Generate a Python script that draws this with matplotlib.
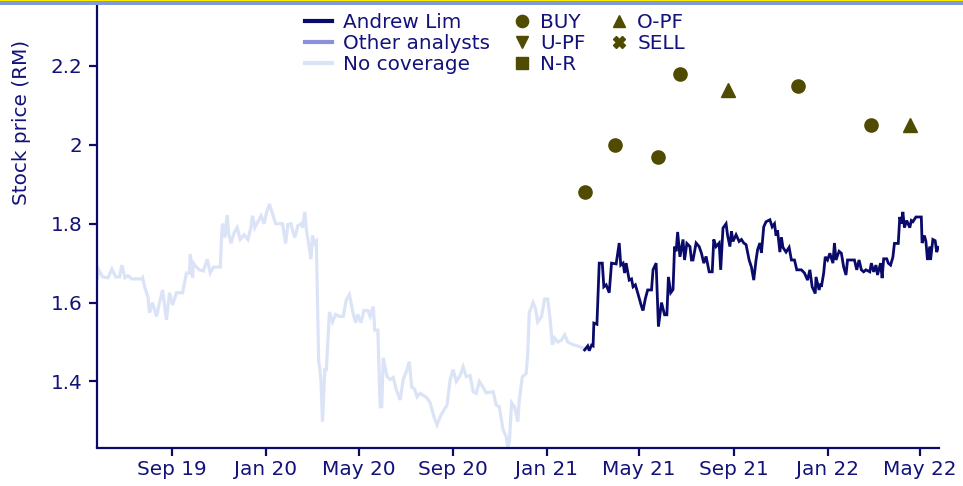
import matplotlib
matplotlib.use("Agg")
import matplotlib.pyplot as plt
import matplotlib.dates as mdates
from matplotlib.lines import Line2D
from matplotlib.patches import Rectangle
from matplotlib.ticker import FuncFormatter
import pandas as pd

# --- DATA ---
# price history while the stock had no coverage
NO_COVERAGE = [
    ("2019-05-27", 1.660), ("2019-05-29", 1.683), ("2019-06-03", 1.665), ("2019-06-10", 1.663),
    ("2019-06-15", 1.685), ("2019-06-20", 1.665), ("2019-06-25", 1.665), ("2019-06-28", 1.695),
    ("2019-07-02", 1.663), ("2019-07-06", 1.668), ("2019-07-11", 1.660), ("2019-07-16", 1.660),
    ("2019-07-24", 1.660), ("2019-07-25", 1.663), ("2019-07-28", 1.637), ("2019-08-01", 1.614),
    ("2019-08-03", 1.574), ("2019-08-07", 1.600), ("2019-08-12", 1.565), ("2019-08-16", 1.600),
    ("2019-08-20", 1.632), ("2019-08-25", 1.556), ("2019-08-29", 1.625), ("2019-09-02", 1.594),
    ("2019-09-07", 1.625), ("2019-09-15", 1.625), ("2019-09-20", 1.675), ("2019-09-24", 1.675),
    ("2019-09-25", 1.723), ("2019-09-28", 1.663), ("2019-09-29", 1.700), ("2019-10-03", 1.690),
    ("2019-10-07", 1.683), ("2019-10-12", 1.680), ("2019-10-17", 1.710), ("2019-10-21", 1.675),
    ("2019-10-25", 1.690), ("2019-11-03", 1.690), ("2019-11-05", 1.777), ("2019-11-06", 1.800),
    ("2019-11-09", 1.765), ("2019-11-12", 1.822), ("2019-11-14", 1.775), ("2019-11-17", 1.750),
    ("2019-11-21", 1.777), ("2019-11-25", 1.790), ("2019-11-29", 1.760), ("2019-12-04", 1.772),
    ("2019-12-09", 1.760), ("2019-12-13", 1.792), ("2019-12-15", 1.820), ("2019-12-18", 1.790),
    ("2019-12-22", 1.805), ("2019-12-26", 1.820), ("2019-12-30", 1.800), ("2020-01-02", 1.827),
    ("2020-01-06", 1.850), ("2020-01-10", 1.825), ("2020-01-14", 1.800), ("2020-01-23", 1.800),
    ("2020-01-27", 1.750), ("2020-01-30", 1.798), ("2020-02-03", 1.800), ("2020-02-05", 1.784),
    ("2020-02-08", 1.765), ("2020-02-12", 1.795), ("2020-02-16", 1.800), ("2020-02-18", 1.790),
    ("2020-02-21", 1.830), ("2020-02-23", 1.784), ("2020-02-26", 1.750), ("2020-02-29", 1.710),
    ("2020-03-02", 1.770), ("2020-03-05", 1.750), ("2020-03-07", 1.755), ("2020-03-10", 1.450),
    ("2020-03-11", 1.440), ("2020-03-13", 1.404), ("2020-03-15", 1.298), ("2020-03-18", 1.430),
    ("2020-03-20", 1.430), ("2020-03-24", 1.576), ("2020-03-28", 1.551), ("2020-04-01", 1.570),
    ("2020-04-06", 1.565), ("2020-04-11", 1.565), ("2020-04-15", 1.607), ("2020-04-19", 1.620),
    ("2020-04-23", 1.580), ("2020-04-27", 1.549), ("2020-04-30", 1.570), ("2020-05-04", 1.549),
    ("2020-05-08", 1.580), ("2020-05-13", 1.580), ("2020-05-16", 1.565), ("2020-05-20", 1.590),
    ("2020-05-22", 1.530), ("2020-05-26", 1.530), ("2020-05-29", 1.336), ("2020-05-31", 1.336),
    ("2020-06-02", 1.460), ("2020-06-07", 1.412), ("2020-06-11", 1.405), ("2020-06-15", 1.410),
    ("2020-06-19", 1.379), ("2020-06-24", 1.353), ("2020-06-28", 1.405), ("2020-07-03", 1.430),
    ("2020-07-06", 1.450), ("2020-07-09", 1.386), ("2020-07-13", 1.380), ("2020-07-16", 1.361),
    ("2020-07-20", 1.370), ("2020-07-24", 1.365), ("2020-07-29", 1.358), ("2020-08-02", 1.346),
    ("2020-08-07", 1.310), ("2020-08-11", 1.290), ("2020-08-15", 1.310), ("2020-08-20", 1.328),
    ("2020-08-24", 1.340), ("2020-08-28", 1.404), ("2020-09-01", 1.430), ("2020-09-05", 1.400),
    ("2020-09-10", 1.415), ("2020-09-14", 1.437), ("2020-09-18", 1.412), ("2020-09-23", 1.415),
    ("2020-09-27", 1.374), ("2020-10-01", 1.370), ("2020-10-05", 1.400), ("2020-10-10", 1.385),
    ("2020-10-14", 1.371), ("2020-10-23", 1.374), ("2020-10-27", 1.340), ("2020-10-31", 1.336),
    ("2020-11-05", 1.277), ("2020-11-09", 1.260), ("2020-11-11", 1.234), ("2020-11-13", 1.245),
    ("2020-11-16", 1.346), ("2020-11-20", 1.335), ("2020-11-24", 1.298), ("2020-11-26", 1.353),
    ("2020-11-30", 1.412), ("2020-12-05", 1.420), ("2020-12-07", 1.472), ("2020-12-09", 1.574),
    ("2020-12-14", 1.600), ("2020-12-17", 1.585), ("2020-12-20", 1.551), ("2020-12-25", 1.565),
    ("2020-12-29", 1.609), ("2021-01-02", 1.609), ("2021-01-05", 1.560), ("2021-01-08", 1.493),
    ("2021-01-11", 1.510), ("2021-01-15", 1.500), ("2021-01-20", 1.505), ("2021-01-24", 1.518),
    ("2021-01-28", 1.500), ("2021-02-04", 1.493), ("2021-02-10", 1.490), ("2021-02-17", 1.485),
    ("2021-02-19", 1.480),
]

# price history while covered by Andrew Lim
ANDREW_LIM = [
    ("2021-02-19", 1.480), ("2021-02-23", 1.490), ("2021-02-25", 1.478), ("2021-02-28", 1.492),
    ("2021-03-02", 1.490), ("2021-03-03", 1.548), ("2021-03-07", 1.545), ("2021-03-10", 1.700),
    ("2021-03-14", 1.700), ("2021-03-16", 1.640), ("2021-03-19", 1.645), ("2021-03-23", 1.625),
    ("2021-03-26", 1.700), ("2021-04-01", 1.698), ("2021-04-05", 1.751), ("2021-04-07", 1.695),
    ("2021-04-10", 1.700), ("2021-04-12", 1.675), ("2021-04-14", 1.700), ("2021-04-18", 1.657),
    ("2021-04-21", 1.660), ("2021-04-23", 1.640), ("2021-04-26", 1.645), ("2021-04-29", 1.625),
    ("2021-05-04", 1.590), ("2021-05-06", 1.580), ("2021-05-09", 1.610), ("2021-05-12", 1.632),
    ("2021-05-17", 1.632), ("2021-05-19", 1.683), ("2021-05-23", 1.700), ("2021-05-26", 1.539),
    ("2021-05-30", 1.600), ("2021-06-03", 1.569), ("2021-06-06", 1.569), ("2021-06-08", 1.665),
    ("2021-06-11", 1.625), ("2021-06-14", 1.633), ("2021-06-16", 1.742), ("2021-06-18", 1.730),
    ("2021-06-20", 1.779), ("2021-06-23", 1.716), ("2021-06-27", 1.760), ("2021-06-29", 1.708),
    ("2021-07-02", 1.750), ("2021-07-06", 1.742), ("2021-07-08", 1.708), ("2021-07-10", 1.708),
    ("2021-07-14", 1.751), ("2021-07-18", 1.742), ("2021-07-21", 1.725), ("2021-07-24", 1.700),
    ("2021-07-27", 1.717), ("2021-07-31", 1.678), ("2021-08-04", 1.678), ("2021-08-06", 1.760),
    ("2021-08-09", 1.742), ("2021-08-13", 1.751), ("2021-08-15", 1.683), ("2021-08-18", 1.789),
    ("2021-08-22", 1.800), ("2021-08-24", 1.770), ("2021-08-27", 1.742), ("2021-08-29", 1.781),
    ("2021-08-31", 1.755), ("2021-09-04", 1.772), ("2021-09-08", 1.755), ("2021-09-11", 1.760),
    ("2021-09-14", 1.751), ("2021-09-17", 1.747), ("2021-09-21", 1.708), ("2021-09-24", 1.690),
    ("2021-09-27", 1.657), ("2021-09-30", 1.708), ("2021-10-02", 1.734), ("2021-10-05", 1.751),
    ("2021-10-07", 1.726), ("2021-10-10", 1.792), ("2021-10-13", 1.805), ("2021-10-18", 1.810),
    ("2021-10-21", 1.792), ("2021-10-24", 1.800), ("2021-10-26", 1.770), ("2021-10-28", 1.783),
    ("2021-10-31", 1.728), ("2021-11-02", 1.765), ("2021-11-04", 1.740), ("2021-11-08", 1.728),
    ("2021-11-12", 1.740), ("2021-11-15", 1.708), ("2021-11-19", 1.708), ("2021-11-22", 1.683),
    ("2021-11-28", 1.683), ("2021-12-02", 1.675), ("2021-12-06", 1.657), ("2021-12-09", 1.683),
    ("2021-12-12", 1.640), ("2021-12-16", 1.623), ("2021-12-17", 1.665), ("2021-12-21", 1.632),
    ("2021-12-23", 1.648), ("2021-12-24", 1.640), ("2021-12-27", 1.675), ("2021-12-29", 1.716),
    ("2022-01-01", 1.708), ("2022-01-04", 1.725), ("2022-01-08", 1.700), ("2022-01-10", 1.751),
    ("2022-01-12", 1.708), ("2022-01-16", 1.730), ("2022-01-19", 1.725), ("2022-01-22", 1.690),
    ("2022-01-25", 1.670), ("2022-01-27", 1.708), ("2022-02-01", 1.708), ("2022-02-05", 1.708),
    ("2022-02-08", 1.683), ("2022-02-11", 1.708), ("2022-02-14", 1.683), ("2022-02-17", 1.678),
    ("2022-02-20", 1.683), ("2022-02-25", 1.678), ("2022-02-27", 1.700), ("2022-03-02", 1.678),
    ("2022-03-05", 1.695), ("2022-03-07", 1.670), ("2022-03-11", 1.700), ("2022-03-13", 1.662),
    ("2022-03-15", 1.711), ("2022-03-19", 1.711), ("2022-03-21", 1.700), ("2022-03-24", 1.695),
    ("2022-03-27", 1.715), ("2022-03-29", 1.750), ("2022-04-03", 1.750), ("2022-04-05", 1.817),
    ("2022-04-07", 1.800), ("2022-04-09", 1.830), ("2022-04-11", 1.790), ("2022-04-14", 1.808),
    ("2022-04-18", 1.790), ("2022-04-20", 1.808), ("2022-04-22", 1.805), ("2022-04-26", 1.817),
    ("2022-05-03", 1.817), ("2022-05-04", 1.751), ("2022-05-07", 1.770), ("2022-05-09", 1.755),
    ("2022-05-11", 1.708), ("2022-05-14", 1.742), ("2022-05-15", 1.708), ("2022-05-18", 1.760),
    ("2022-05-21", 1.757), ("2022-05-23", 1.728), ("2022-05-25", 1.740),
]

# rating changes: date, target price, call
RATING_DATES = ["2021-02-19", "2021-03-31", "2021-05-25", "2021-06-23",
                "2021-08-24", "2021-11-24", "2022-02-26", "2022-04-18"]
RATING_TARGETS = [1.88, 2.00, 1.97, 2.18, 2.14, 2.15, 2.05, 2.05]
RATING_CALLS = ["BUY", "BUY", "BUY", "BUY", "O-PF", "BUY", "BUY", "O-PF"]

LINE_LABELS = ["Andrew Lim", "Other analysts", "No coverage"]
CALL_LABELS = ["BUY", "U-PF", "N-R", "O-PF", "SELL"]

# --- STYLE ---
NAVY = "#0a0a6a"
TEXT = "#12127a"
OTHER = "#8c90d8"
LIGHT = "#dbe3f6"
OLIVE = "#4f4b00"
MARKERS = {"BUY": "o", "U-PF": "v", "N-R": "s", "O-PF": "^", "SELL": "X"}
FS = 14.4

W, H = 963, 486
fig = plt.figure(figsize=(W / 100, H / 100), dpi=100)
ax = fig.add_axes([96.5 / W, 38.5 / H, (939 - 96.5) / W, (447.5 - 5) / H])

# thin yellow / blue band along the top edge
fig.add_artist(Rectangle((0, 1 - 1.4 / H), 1, 1.4 / H, transform=fig.transFigure,
                         color="#ffe900", lw=0))
fig.add_artist(Rectangle((0, 1 - 5 / H), 1, 3.6 / H, transform=fig.transFigure,
                         color="#7d9cd8", lw=0))

nc = pd.DataFrame(NO_COVERAGE, columns=["date", "price"])
nc["date"] = pd.to_datetime(nc["date"])
al = pd.DataFrame(ANDREW_LIM, columns=["date", "price"])
al["date"] = pd.to_datetime(al["date"])

ax.plot(nc["date"], nc["price"], color=LIGHT, lw=2.3, solid_joinstyle="miter", zorder=2)
ax.plot(al["date"], al["price"], color=NAVY, lw=2.0, solid_joinstyle="miter", zorder=3)

rd = pd.to_datetime(RATING_DATES)
for call in MARKERS:
    idx = [i for i, c in enumerate(RATING_CALLS) if c == call]
    if not idx:
        continue
    ax.plot(rd[idx], [RATING_TARGETS[i] for i in idx], ls="none",
            marker=MARKERS[call], ms=9.5, color=OLIVE, mec=OLIVE, zorder=4)

# --- AXES ---
ax.set_xlim(pd.Timestamp("2019-05-26"), pd.Timestamp("2022-05-26"))
ax.set_ylim(1.2325, 2.3546)
ax.set_yticks([1.4, 1.6, 1.8, 2.0, 2.2])
ax.yaxis.set_major_formatter(FuncFormatter(lambda v, _: f"{v:g}"))
ax.xaxis.set_major_locator(mdates.MonthLocator(bymonth=[1, 5, 9]))
ax.xaxis.set_major_formatter(mdates.DateFormatter("%b %y"))

for side in ["top", "right"]:
    ax.spines[side].set_visible(False)
for side in ["left", "bottom"]:
    ax.spines[side].set_color(NAVY)
    ax.spines[side].set_linewidth(1.6)

ax.tick_params(axis="both", direction="out", length=5.5, width=1.6, color=NAVY,
               labelcolor=TEXT, labelsize=FS)
ax.tick_params(axis="x", pad=3.5)
ax.tick_params(axis="y", pad=4.5)

ax.set_ylabel("Stock price (RM)", color=TEXT, fontsize=FS)
ax.yaxis.set_label_coords(-0.078, 0.735)

# --- LEGENDS ---
line_handles = [Line2D([], [], color=NAVY, lw=3),
                Line2D([], [], color=OTHER, lw=3),
                Line2D([], [], color=LIGHT, lw=3)]
fig.legend(line_handles, LINE_LABELS, loc="upper left",
           bbox_to_anchor=(305 / W, 1 - 13.5 / H), frameon=False, borderpad=0,
           borderaxespad=0, handlelength=1.35, handletextpad=0.55,
           labelspacing=0.08, fontsize=FS, labelcolor=TEXT)

call_handles = [Line2D([], [], ls="none", marker=MARKERS[c], ms=8.8, color=OLIVE)
                for c in CALL_LABELS]
fig.legend(call_handles, CALL_LABELS, loc="upper left", ncol=2,
           bbox_to_anchor=(512 / W, 1 - 13.5 / H), frameon=False, borderpad=0,
           borderaxespad=0, handlelength=1.0, handletextpad=0.4,
           columnspacing=1.2, labelspacing=0.08, fontsize=FS, labelcolor=TEXT)

fig.savefig("out.png", dpi=100)
